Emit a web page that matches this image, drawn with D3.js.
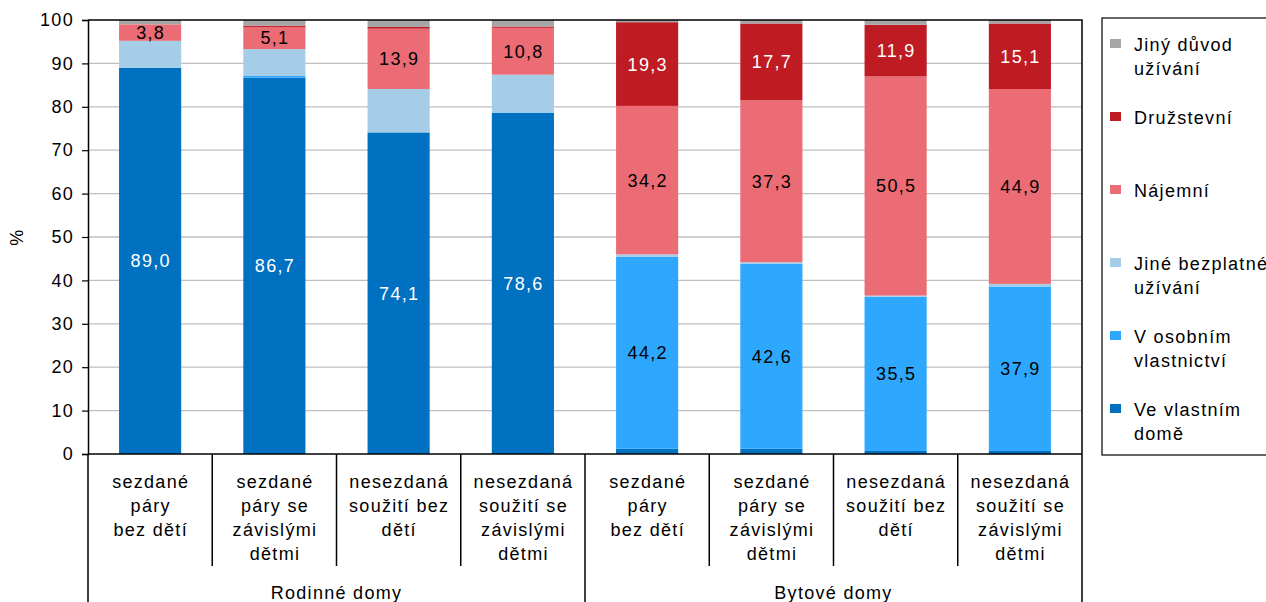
<!DOCTYPE html>
<html>
<head>
<meta charset="utf-8">
<script src="https://cdn.jsdelivr.net/npm/d3@7"></script>
<style>
  body { margin: 0; background: #fff; }
  svg text { font-family: "Liberation Sans", Arial, sans-serif; font-size: 18px; letter-spacing: 1.3px; }
</style>
</head>
<body>
<div id="chart"></div>
<script>
// categories (bottom axis), wrapped like the original
var categoryLines = [
  ["sezdané", "páry", "bez dětí"],
  ["sezdané", "páry se", "závislými", "dětmi"],
  ["nesezdaná", "soužití bez", "dětí"],
  ["nesezdaná", "soužití se", "závislými", "dětmi"],
  ["sezdané", "páry", "bez dětí"],
  ["sezdané", "páry se", "závislými", "dětmi"],
  ["nesezdaná", "soužití bez", "dětí"],
  ["nesezdaná", "soužití se", "závislými", "dětmi"]
];
var groups = ["Rodinné domy", "Bytové domy"];
var groupSize = 4;

// series, stacking order bottom -> top
var seriesNames = ["Ve vlastním domě", "V osobním vlastnictví", "Jiné bezplatné užívání",
                   "Nájemní", "Družstevní", "Jiný důvod užívání"];
var legendLines = [["Ve vlastním", "domě"], ["V osobním", "vlastnictví"], ["Jiné bezplatné", "užívání"],
                   ["Nájemní"], ["Družstevní"], ["Jiný důvod", "užívání"]];
var colors = ["#0070c0", "#2ea8ff", "#a6cde8", "#eb6c74", "#be1b23", "#a6a6a6"];

var vlastniDum    = [89.0, 86.7, 74.1, 78.6, 1.2, 1.2, 0.7, 0.7];
var osobni        = [0.0, 0.4, 0.0, 0.1, 44.2, 42.6, 35.5, 37.9];
var bezplatne     = [6.2, 6.2, 10.0, 8.7, 0.6, 0.4, 0.3, 0.6];
var najemni       = [3.8, 5.1, 13.9, 10.8, 34.2, 37.3, 50.5, 44.9];
var druzstevni    = [0.0, 0.3, 0.4, 0.3, 19.3, 17.7, 11.9, 15.1];
var jiny          = [1.0, 1.3, 1.6, 1.5, 0.5, 0.8, 1.1, 0.8];

var yTicks = [0, 10, 20, 30, 40, 50, 60, 70, 80, 90, 100];

// which segments get a value label, and label colour
var labelled = [true, true, false, true, true, false];
var labelColor = ["#fff", "#000", "#000", "#000", "#fff", "#000"];

var seriesValues = [vlastniDum, osobni, bezplatne, najemni, druzstevni, jiny];
var rows = categoryLines.map(function(c, i){
  var r = {i: i};
  seriesNames.forEach(function(s, k){ r[s] = seriesValues[k][i]; });
  return r;
});

var W = 1266, H = 602;
var mLeft = 88, mRight = 1082, mTop = 20, mBottom = 454;

var svg = d3.select("#chart").append("svg")
  .attr("width", W).attr("height", H);

var x = d3.scaleBand().domain(d3.range(categoryLines.length))
  .range([mLeft, mRight]).paddingInner(0.5).paddingOuter(0.25);
var y = d3.scaleLinear().domain([0, 100]).range([mBottom, mTop]);

// gridlines
svg.append("g").selectAll("line").data(yTicks.slice(1, -1)).enter().append("line")
  .attr("x1", mLeft).attr("x2", mRight)
  .attr("y1", function(d){ return y(d); }).attr("y2", function(d){ return y(d); })
  .attr("stroke", "#bfbfbf").attr("stroke-width", 1.3);

var stack = d3.stack().keys(seriesNames);
var layers = stack(rows);

var lg = svg.append("g").selectAll("g").data(layers).enter().append("g")
  .attr("fill", function(d, k){ return colors[k]; });
lg.selectAll("rect").data(function(d){ return d; }).enter().append("rect")
  .attr("x", function(d){ return x(d.data.i); })
  .attr("width", x.bandwidth())
  .attr("y", function(d){ return y(d[1]); })
  .attr("height", function(d){ return y(d[0]) - y(d[1]); });

// value labels
layers.forEach(function(layer, k){
  if(!labelled[k]) return;
  svg.append("g").selectAll("text").data(layer.filter(function(d){ return d[1] - d[0] >= 3; }))
    .enter().append("text")
    .attr("x", function(d){ return x(d.data.i) + x.bandwidth()/2 + 0.6; })
    .attr("y", function(d){ return (y(d[0]) + y(d[1]))/2; })
    .attr("dy", "0.36em")
    .attr("text-anchor", "middle")
    .attr("fill", labelColor[k])
    .text(function(d){ return d3.format(".1f")(d[1] - d[0]).replace(".", ","); });
});

// plot frame: top and right
svg.append("path")
  .attr("d", "M" + mLeft + "," + mTop + "H" + mRight + "V" + mBottom)
  .attr("fill", "none").attr("stroke", "#000").attr("stroke-width", 1.5);

// y axis
var yAxis = svg.append("g").attr("transform", "translate(" + mLeft + ",0)")
  .call(d3.axisLeft(y).tickValues(yTicks).tickSize(6).tickPadding(8));
yAxis.attr("font-size", null).attr("font-family", null);
yAxis.select(".domain").attr("stroke", "#000").attr("stroke-width", 1.5);
yAxis.selectAll(".tick line").attr("stroke", "#000").attr("stroke-width", 1.2);
yAxis.selectAll(".tick text").attr("fill", "#000");

svg.append("text")
  .attr("transform", "translate(23," + ((mTop + mBottom)/2) + ") rotate(-90)")
  .attr("text-anchor", "middle").text("%");

// x axis line
svg.append("line").attr("x1", mLeft).attr("x2", mRight)
  .attr("y1", mBottom).attr("y2", mBottom)
  .attr("stroke", "#000").attr("stroke-width", 1.5);

// category separators
var step = x.step();
var sepX = d3.range(categoryLines.length + 1).map(function(i){ return mLeft + i * step; });
svg.append("g").selectAll("line").data(sepX).enter().append("line")
  .attr("x1", function(d){ return d; }).attr("x2", function(d){ return d; })
  .attr("y1", mBottom)
  .attr("y2", function(d, i){ return i % groupSize === 0 ? H : 566; })
  .attr("stroke", "#000").attr("stroke-width", 1.5);

// category labels
svg.append("g").selectAll("text").data(categoryLines).enter().append("text")
  .attr("text-anchor", "middle")
  .attr("x", function(d, i){ return x(i) + x.bandwidth()/2 + 0.6; })
  .each(function(lines){
    var t = d3.select(this);
    lines.forEach(function(l, j){
      t.append("tspan").attr("x", t.attr("x")).attr("y", 488 + j * 24).text(l);
    });
  });

// group labels
svg.append("g").selectAll("text").data(groups).enter().append("text")
  .attr("text-anchor", "middle")
  .attr("x", function(d, g){ return mLeft + (g + 0.5) * groupSize * step; })
  .attr("y", 599)
  .text(function(d){ return d; });

// legend
svg.append("rect").attr("x", 1102).attr("y", 18).attr("width", 180).attr("height", 437)
  .attr("fill", "none").attr("stroke", "#000").attr("stroke-width", 1.2);

var legendY = [409, 336, 263, 190, 117, 44];
var leg = svg.append("g").selectAll("g").data(seriesNames).enter().append("g")
  .attr("transform", function(d, k){ return "translate(1110," + legendY[k] + ")"; });
leg.append("rect").attr("x", 0).attr("y", -5).attr("width", 11).attr("height", 9)
  .attr("fill", function(d, k){ return colors[k]; });
leg.append("text")
  .each(function(d, k){
    var t = d3.select(this);
    legendLines[k].forEach(function(l, j){
      t.append("tspan").attr("x", 24).attr("y", j * 24 + 1).attr("dy", "0.36em").text(l);
    });
  });
</script>
</body>
</html>
